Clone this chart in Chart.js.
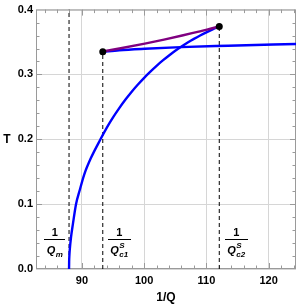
<!DOCTYPE html>
<html>
<head>
<meta charset="utf-8">
<script src="https://cdn.jsdelivr.net/npm/chart.js@4.4.1/dist/chart.umd.min.js"></script>
<style>
html, body { margin: 0; padding: 0; background: #fff; }
</style>
</head>
<body>
<canvas id="chart" width="300" height="305"></canvas>
<script>
// curve rising from 1/Qm up to the upper dot
const curveX = [87.93, 87.945, 87.98, 88.04, 88.25, 88.56, 89.05, 89.63, 90.38, 91.44, 92.98, 94, 95, 96, 97, 98, 99, 100, 101, 102, 103, 104, 105, 106, 107, 108, 109, 110, 111, 112.07];
const curveT = [0, 0.011, 0.020, 0.029, 0.049, 0.070, 0.100, 0.121, 0.146, 0.171, 0.200, 0.218, 0.2338, 0.2481, 0.2613, 0.2734, 0.2845, 0.2948, 0.3044, 0.3133, 0.3216, 0.3293, 0.3366, 0.3432, 0.3493, 0.3549, 0.3601, 0.3649, 0.3695, 0.374];

// flat branch starting at the lower dot
const flatX = [93.35, 96.0, 100.1, 105.9, 113.5, 124.4];
const flatT = [0.335, 0.3373, 0.3396, 0.3422, 0.3443, 0.347];

// purple branch between the two dots
const purpleX = [93.35, 96.01, 100.11, 103.19, 106.11, 108.77, 110.10, 112.07];
const purpleT = [0.3354, 0.3400, 0.3475, 0.3537, 0.3600, 0.3661, 0.3691, 0.374];

// end points
const dotX = [93.35, 112.07];
const dotT = [0.335, 0.374];

// 1/Qm, 1/Qc1, 1/Qc2 and how high each dashed line goes
const markX = [87.93, 93.35, 112.07];
const markTop = [0.4, 0.335, 0.374];

const xTicks = [90, 100, 110, 120];
const yTicks = [0, 0.1, 0.2, 0.3, 0.4];

const FONT = '"Liberation Sans", Arial, sans-serif';

function pts(xs, ys) {
  return xs.map((x, i) => ({ x: x, y: ys[i] }));
}

// fraction labels under the curve: center x (data), subscript, superscript
const fracLabels = [
  { x: 85.65, sub: 'm', sup: '' },
  { x: 96.0, sub: 'c1', sup: 'S' },
  { x: 114.8, sub: 'c2', sup: 'S' }
];

const datasets = [
  {
    data: pts(dotX, dotT), showLine: false,
    pointRadius: 3.5, pointBackgroundColor: '#000', pointBorderWidth: 0
  },
  {
    data: pts(purpleX, purpleT), showLine: true, pointRadius: 0,
    borderColor: '#800080', borderWidth: 2.4, cubicInterpolationMode: 'monotone'
  },
  {
    data: pts(curveX, curveT), showLine: true, pointRadius: 0,
    borderColor: '#0000ff', borderWidth: 2.4, cubicInterpolationMode: 'monotone'
  },
  {
    data: pts(flatX, flatT), showLine: true, pointRadius: 0,
    borderColor: '#0000ff', borderWidth: 2.4, cubicInterpolationMode: 'monotone'
  }
];

markX.forEach((x, i) => {
  datasets.push({
    data: [{ x: x, y: 0 }, { x: x, y: markTop[i] }],
    showLine: true, pointRadius: 0,
    borderColor: '#000', borderWidth: 1, borderDash: [4, 3]
  });
});

const framePlugin = {
  id: 'frame',
  beforeDatasetsDraw(chart) {
    const ctx = chart.ctx;
    const a = chart.chartArea;
    const xs = chart.scales.x, ys = chart.scales.y;
    ctx.save();
    ctx.strokeStyle = '#9a9a9a';
    ctx.lineWidth = 1;
    ctx.strokeRect(a.left + 0.5, a.top + 0.5, a.right - a.left - 1, a.bottom - a.top - 1);
    ctx.beginPath();
    for (let k = 42; k <= 62; k++) {
      const px = Math.round(xs.getPixelForValue(k * 2)) + 0.5;
      const len = (k * 2) % 10 === 0 ? 6 : 3.5;
      ctx.moveTo(px, a.bottom); ctx.lineTo(px, a.bottom - len);
      ctx.moveTo(px, a.top); ctx.lineTo(px, a.top + len);
    }
    for (let k = 1; k < 20; k++) {
      const py = Math.round(ys.getPixelForValue(k * 0.02)) + 0.5;
      const len = k % 5 === 0 ? 6 : 3.5;
      ctx.moveTo(a.left, py); ctx.lineTo(a.left + len, py);
      ctx.moveTo(a.right, py); ctx.lineTo(a.right - len, py);
    }
    ctx.stroke();
    ctx.restore();
  },
  afterDraw(chart) {
    const ctx = chart.ctx;
    const a = chart.chartArea;
    const xs = chart.scales.x;
    ctx.save();
    ctx.fillStyle = '#000';
    ctx.textAlign = 'center';
    ctx.textBaseline = 'middle';
    ctx.font = 'bold 12px ' + FONT;
    ctx.fillText('T', a.left - 29, (a.top + a.bottom) / 2);

    fracLabels.forEach(l => {
      const cx = xs.getPixelForValue(l.x);
      ctx.textAlign = 'center';
      ctx.textBaseline = 'alphabetic';
      ctx.font = 'bold 11px ' + FONT;
      ctx.fillText('1', cx, 236);
      // denominator
      const qFont = 'italic bold 11px ' + FONT;
      const sFont = 'italic bold 8px ' + FONT;
      ctx.font = qFont;
      const qw = ctx.measureText('Q').width;
      ctx.font = sFont;
      const sw = Math.max(ctx.measureText(l.sub).width, ctx.measureText(l.sup).width);
      const w = qw + sw + 0.5;
      const x0 = cx - w / 2;
      ctx.textAlign = 'left';
      ctx.font = qFont;
      ctx.fillText('Q', x0, 254);
      ctx.font = sFont;
      ctx.fillText(l.sub, x0 + qw + 0.5, 257);
      if (l.sup) ctx.fillText(l.sup, x0 + qw + 0.5, 248);
      const lw = w + 5;
      ctx.fillRect(Math.round(cx - lw / 2), 239, Math.round(lw), 1);
    });
    ctx.restore();
  }
};

new Chart(document.getElementById('chart'), {
  type: 'scatter',
  data: { datasets: datasets },
  options: {
    responsive: false,
    animation: false,
    devicePixelRatio: 1,
    layout: { padding: { top: 7, right: 2, left: 0, bottom: 0 } },
    plugins: { legend: { display: false }, tooltip: { enabled: false } },
    scales: {
      x: {
        type: 'linear', min: 82.62, max: 124.4,
        afterBuildTicks: s => { s.ticks = xTicks.map(v => ({ value: v })); },
        afterFit: s => { s.height = 36; },
        grid: { color: '#d6d6d6', drawTicks: false },
        border: { display: false },
        ticks: {
          padding: 5, color: '#000', maxRotation: 0, autoSkip: false,
          font: { family: FONT, size: 11, weight: 'bold' },
          callback: v => String(v)
        },
        title: {
          display: true, text: '1/Q', color: '#000',
          font: { family: FONT, size: 12, weight: 'bold' },
          padding: { top: 0, bottom: 0 }
        }
      },
      y: {
        type: 'linear', min: 0, max: 0.4,
        afterBuildTicks: s => { s.ticks = yTicks.map(v => ({ value: v })); },
        afterFit: s => { s.width = 36; },
        grid: { color: '#d6d6d6', drawTicks: false },
        border: { display: false },
        ticks: {
          padding: 3, color: '#000',
          font: { family: FONT, size: 11, weight: 'bold' },
          callback: v => v.toFixed(1)
        }
      }
    }
  },
  plugins: [framePlugin]
});
</script>
</body>
</html>
